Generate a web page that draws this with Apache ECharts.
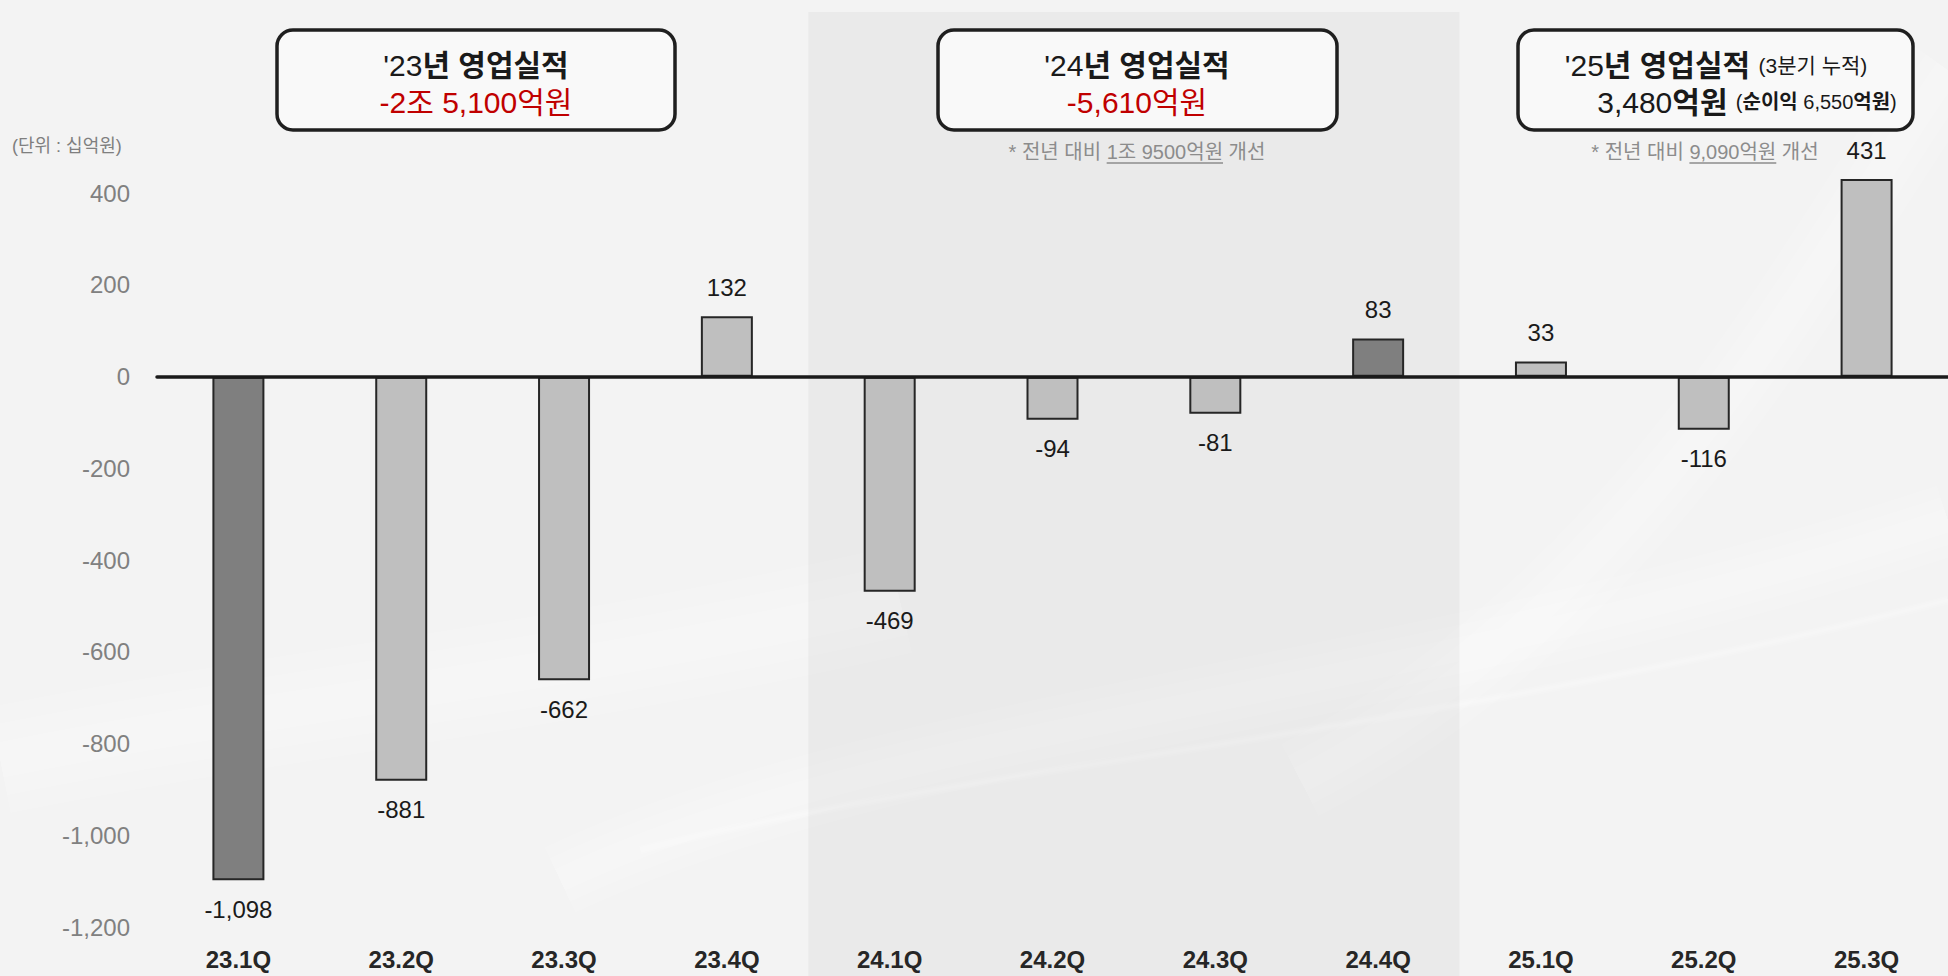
<!DOCTYPE html>
<html>
<head>
<meta charset="utf-8">
<script src="https://cdn.jsdelivr.net/npm/echarts@6/dist/echarts.min.js"></script>
<style>
html,body{margin:0;padding:0;background:#f3f3f3;}
#chart{width:1948px;height:976px;}
</style>
</head>
<body>
<div id="chart"></div>
<script>
const categories = ['23.1Q','23.2Q','23.3Q','23.4Q','24.1Q','24.2Q','24.3Q','24.4Q','25.1Q','25.2Q','25.3Q'];
const values = [-1098, -881, -662, 132, -469, -94, -81, 83, 33, -116, 431];
const highlighted = ['23.1Q', '24.4Q'];
const yTicks = { min: -1200, max: 600, interval: 200, lastShown: 400 };
const unitLabel = '(단위 : 십억원)';
const shadedFrom = '24.1Q', shadedTo = '24.4Q';

const FAM = "'Liberation Sans','Noto Sans CJK KR',sans-serif";
const fmt = v => v.toLocaleString('en-US');

const chart = echarts.init(document.getElementById('chart'), null, {renderer: 'svg'});

const barData = values.map((v, i) => ({
  value: v,
  itemStyle: { color: highlighted.includes(categories[i]) ? '#7f7f7f' : '#bfbfbf' },
  label: { position: v >= 0 ? 'top' : 'bottom', distance: 17 }
}));

const option = {
  backgroundColor: '#f3f3f3',
  animation: false,
  textStyle: { fontFamily: FAM },
  grid: { left: 157, right: -13, top: 101.5, bottom: 49, containLabel: false },
  xAxis: [
    {
      type: 'category', data: categories,
      axisLine: { show: true, onZero: true, lineStyle: { color: '#1a1a1a', width: 3.5 } },
      axisTick: { show: false }, axisLabel: { show: false }, z: 5
    },
    {
      type: 'category', data: categories, position: 'bottom',
      axisLine: { show: false, onZero: false }, axisTick: { show: false },
      axisLabel: { show: true, margin: 20, fontFamily: FAM, fontSize: 24, lineHeight: 24, fontWeight: 'bold', color: '#262626' }
    }
  ],
  yAxis: {
    type: 'value', min: yTicks.min, max: yTicks.max, interval: yTicks.interval,
    splitLine: { show: false }, axisLine: { show: false }, axisTick: { show: false },
    axisLabel: {
      margin: 27, fontFamily: FAM, fontSize: 24, color: '#808080',
      formatter: v => v > yTicks.lastShown ? '' : fmt(v)
    }
  },
  series: [{
    type: 'bar', xAxisIndex: 0, data: barData, barWidth: 52,
    itemStyle: { borderColor: '#262626', borderWidth: 2 },
    label: { show: true, fontFamily: FAM, fontSize: 24, color: '#1a1a1a', formatter: p => fmt(p.value) },
    z: 3
  }]
};
chart.setOption(option);

const mctx = document.createElement('canvas').getContext('2d');
function tw(text, size, weight) { mctx.font = `${weight || 'normal'} ${size}px ${FAM}`; return mctx.measureText(text).width; }

const xA = chart.convertToPixel({xAxisIndex: 0}, shadedFrom);
const xAprev = chart.convertToPixel({xAxisIndex: 0}, categories[categories.indexOf(shadedFrom) - 1]);
const xB = chart.convertToPixel({xAxisIndex: 0}, shadedTo);
const xBnext = chart.convertToPixel({xAxisIndex: 0}, categories[categories.indexOf(shadedTo) + 1]);
const bandL = (xA + xAprev) / 2, bandR = (xB + xBnext) / 2;

function box(x1, x2) {
  return { type: 'rect', shape: { x: x1, y: 30, width: x2 - x1, height: 100, r: 16 },
    style: { fill: '#f9f9f9', stroke: '#1f1f1f', lineWidth: 3.5 }, z: 10 };
}
function line(cx, cy, parts) {
  const widths = parts.map(p => tw(p.t, p.s, p.w));
  const total = widths.reduce((a, b) => a + b, 0);
  let x = cx - total / 2;
  const out = [];
  parts.forEach((p, i) => {
    out.push({ type: 'text', x: x, y: cy, z: 11,
      style: { text: p.t, fontFamily: FAM, fontSize: p.s, fontWeight: p.w || 'normal',
        fill: p.c || '#1a1a1a', align: 'left', verticalAlign: 'middle' } });
    if (p.u) {
      out.push({ type: 'line', z: 11, shape: { x1: x, y1: cy + 11, x2: x + widths[i], y2: cy + 11 },
        style: { stroke: p.c, lineWidth: 1.5 } });
    }
    x += widths[i];
  });
  return out;
}
const RED = '#c00000', GRAY = '#8c8c8c';

const swooshes = [
  { shape: { x1: 560, y1: 880, cpx1: 900, cpy1: 720, cpx2: 1400, cpy2: 700, x2: 1948, y2: 520 }, w: 40 },
  { shape: { x1: 640, y1: 850, cpx1: 1000, cpy1: 760, cpx2: 1400, cpy2: 740, x2: 1948, y2: 600 }, w: 5 },
  { shape: { x1: 1300, y1: 780, cpx1: 1650, cpy1: 600, cpx2: 1820, cpy2: 250, x2: 1948, y2: 70 }, w: 45 },
  { shape: { x1: 0, y1: 760, cpx1: 300, cpy1: 700, cpx2: 550, cpy2: 680, x2: 900, y2: 600 }, w: 60 }
];
const swooshEls = [];
swooshes.forEach(s => {
  [3, 2, 1].forEach(k => swooshEls.push({ type: 'bezierCurve', z: -20, silent: true, shape: s.shape,
    style: { stroke: '#ffffff', lineWidth: s.w * k * 0.6, opacity: 0.12, fill: null } }));
});

chart.setOption({
  graphic: [
    ...swooshEls,
    { type: 'rect', z: -10, silent: true, shape: { x: bandL, y: 12, width: bandR - bandL, height: 976 - 12 },
      style: { fill: 'rgba(0,0,0,0.035)' } },
    { type: 'text', x: 12, y: 146, z: 11,
      style: { text: unitLabel, fontFamily: FAM, fontSize: 18, fill: '#7f7f7f', align: 'left', verticalAlign: 'middle' } },
    box(277, 675),
    ...line(476, 65, [{t: "'23", s: 30}, {t: '년 영업실적', s: 30, w: 'bold'}]),
    ...line(476, 102, [{t: '-2조 5,100억원', s: 30, c: RED}]),
    box(938, 1337),
    ...line(1137, 65, [{t: "'24", s: 30}, {t: '년 영업실적', s: 30, w: 'bold'}]),
    ...line(1137, 102, [{t: '-5,610억원', s: 30, c: RED}]),
    ...line(1137, 152, [{t: '* 전년 대비 ', s: 20, c: GRAY}, {t: '1조 9500억원', s: 20, c: GRAY, u: true}, {t: ' 개선', s: 20, c: GRAY}]),
    box(1518, 1913),
    ...line(1716, 65, [{t: "'25", s: 30}, {t: '년 영업실적 ', s: 30, w: 'bold'}, {t: '(3분기 누적)', s: 21}]),
    ...line(1747, 102, [{t: '3,480', s: 30}, {t: '억원 ', s: 30, w: 'bold'}, {t: '(', s: 20},
      {t: '순이익', s: 20, w: 'bold'}, {t: ' 6,550', s: 20}, {t: '억원', s: 20, w: 'bold'}, {t: ')', s: 20}]),
    ...line(1705, 152, [{t: '* 전년 대비 ', s: 20, c: GRAY}, {t: '9,090억원', s: 20, c: GRAY, u: true}, {t: ' 개선', s: 20, c: GRAY}])
  ]
});
</script>
</body>
</html>
